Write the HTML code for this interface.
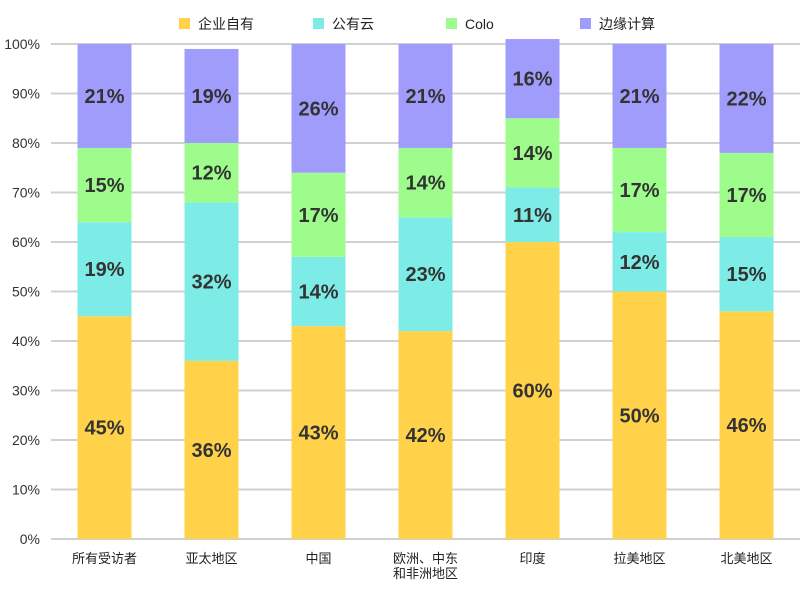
<!DOCTYPE html>
<html><head><meta charset="utf-8"><style>
body{margin:0;background:#fff;}
svg{display:block;font-family:"Liberation Sans","Noto Sans CJK SC",sans-serif;}
</style></head><body>
<svg id="c" width="800" height="600"></svg>
<script>
const categories=[["所有受访者"],["亚太地区"],["中国"],["欧洲、中东","和非洲地区"],["印度"],["拉美地区"],["北美地区"]];
const seriesNames=["企业自有","公有云","Colo","边缘计算"];
const onPrem=[45,36,43,42,60,50,46];
const publicCloud=[19,32,14,23,11,12,15];
const colo=[15,12,17,14,14,17,17];
const edge=[21,19,26,21,16,21,22];
const yTicks=[0,10,20,30,40,50,60,70,80,90,100];
const colors=["#ffd24a","#7eece6","#9efc8c","#a09cfc"];
const series=[onPrem,publicCloud,colo,edge];
const svg=document.getElementById('c');
const NS='http://www.w3.org/2000/svg';
const L=51,R=800,T=44,B=539;
const y=v=>B-(B-T)*v/100;
const band=(R-L)/categories.length;
const x=i=>L+band*(i+0.5);
function mk(t,a,p){const e=document.createElementNS(NS,t);for(const k in a)e.setAttribute(k,a[k]);(p||svg).appendChild(e);return e;}
yTicks.forEach(t=>{
  const g=mk('line',{x1:L,x2:R,y1:y(t),y2:y(t),stroke:'#d0d0d0','stroke-width':2});
  
  
  const tx=mk('text',{x:40,y:y(t)+5,'text-anchor':'end','font-size':14,fill:'#333'});
  tx.textContent=t+'%';
  
  
});
const bw=54;
categories.forEach((c,i)=>{
  let acc=0;
  series.forEach((s,k)=>{
    const v=s[i];
    const r=mk('rect',{x:x(i)-bw/2,y:y(acc+v),width:bw,height:y(acc)-y(acc+v),fill:colors[k]});
    
    
    const t=mk('text',{x:x(i),y:(y(acc)+y(acc+v))/2+7,'text-anchor':'middle','font-size':20,'font-weight':'bold',fill:'#333'});
    t.textContent=v+'%';
    
    
    acc+=v;
  });
  c.forEach((line,j)=>{
    const t=mk('text',{x:x(i),y:563+j*15,'text-anchor':'middle','font-size':13,fill:'#222'});
    t.textContent=line;
    
    
  });
});
const lx=[179,313,446,580];
seriesNames.forEach((n,k)=>{
  const r=mk('rect',{x:lx[k],y:18,width:11,height:11,fill:colors[k]});
  
  
  const t=mk('text',{x:lx[k]+19,y:29,'font-size':14,fill:'#222'});
  t.textContent=n;
  
  
});
</script>
</body></html>
